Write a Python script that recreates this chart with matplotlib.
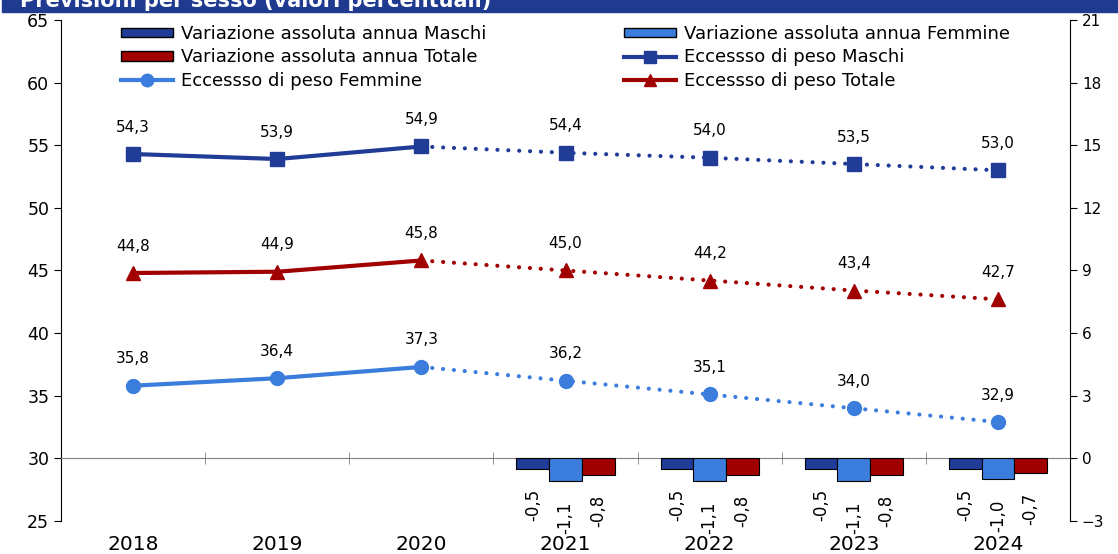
import matplotlib.pyplot as plt
from matplotlib.lines import Line2D
from matplotlib.patches import Patch
import numpy as np

years = ['2018', '2019', '2020', '2021', '2022', '2023', '2024']
maschi = [54.3, 53.9, 54.9, 54.4, 54.0, 53.5, 53.0]
femmine = [35.8, 36.4, 37.3, 36.2, 35.1, 34.0, 32.9]
totale = [44.8, 44.9, 45.8, 45.0, 44.2, 43.4, 42.7]
n_obs = 3  # 2018-2020 osservati, poi proiezioni

var_years = ['2021', '2022', '2023', '2024']
var_maschi = [-0.5, -0.5, -0.5, -0.5]
var_femmine = [-1.1, -1.1, -1.1, -1.0]
var_totale = [-0.8, -0.8, -0.8, -0.7]

BLU = '#203C96'
AZZURRO = '#3A7DDC'
ROSSO = '#A00000'


def fmt(v):
    return f'{v:.1f}'.replace('.', ',')


fig = plt.figure(figsize=(11.18, 5.54), dpi=100)
ax = fig.add_axes([0.0546, 0.0596, 0.9025, 0.9043])
ax2 = ax.twinx()

x = np.arange(len(years))

# title band (cut at the top in the reference)
fig.patches.append(plt.Rectangle((0.002, 1 - 12 / 554), 1.0, 12 / 554,
                                 transform=fig.transFigure, color='#1F3A8F', zorder=0))
fig.text(20 / 1118, 1 - 7 / 554, 'Previsioni per sesso (valori percentuali)',
         color='white', fontsize=15, fontweight='bold', va='baseline', ha='left')

# lines
series = [(maschi, BLU, 's', 10), (femmine, AZZURRO, 'o', 10), (totale, ROSSO, '^', 10)]
for vals, col, mk, ms in series:
    ax.plot(x[:n_obs], vals[:n_obs], color=col, lw=3, solid_capstyle='round', zorder=3)
    ax.plot(x[n_obs - 1:], vals[n_obs - 1:], color=col, lw=3,
            linestyle=(0, (0.01, 2.6)), dash_capstyle='round', zorder=3)
    ax.plot(x, vals, linestyle='none', marker=mk, ms=ms, color=col, zorder=4)
    for xi, v in zip(x, vals):
        ax.annotate(fmt(v), (xi, v), xytext=(0, 14), textcoords='offset points',
                    ha='center', va='bottom', fontsize=11)

# bars
xb = np.array([years.index(y) for y in var_years])
w = 0.227
for off, vals, col in [(-w, var_maschi, BLU), (0, var_femmine, AZZURRO), (w, var_totale, ROSSO)]:
    ax2.bar(xb + off, vals, width=w, color=col, edgecolor='black', linewidth=0.8, zorder=2)
    for xi, v in zip(xb + off, vals):
        ax2.annotate(fmt(v), (xi, v), xytext=(0, -14.5), textcoords='offset points',
                     ha='center', va='top', rotation=90, fontsize=12)

ax.set_xlim(-0.5, len(years) - 0.5)
ax.set_ylim(25, 65)
ax.set_yticks(np.arange(25, 66, 5))
ax2.set_ylim(-3, 21)
ax2.set_yticks(np.arange(-3, 22, 3))

ax.set_xticks(x, years)
ax.set_xticks(np.arange(len(years) + 1) - 0.5, minor=True)
ax.tick_params(axis='x', which='major', length=0, pad=55, labelsize=14.5)
ax.tick_params(axis='x', which='minor', direction='inout', length=8, color='#808080')
ax.tick_params(axis='y', direction='out', length=5, labelsize=12.5)
ax2.tick_params(axis='y', direction='out', length=5, labelsize=11)

for s in ['top', 'right']:
    ax.spines[s].set_visible(False)
ax.spines['bottom'].set_position(('data', 30))
ax.spines['bottom'].set_color('#808080')
for s in ['top', 'left', 'bottom']:
    ax2.spines[s].set_visible(False)

handles = [
    Patch(facecolor=BLU, edgecolor='black', label='Variazione assoluta annua Maschi'),
    Patch(facecolor=ROSSO, edgecolor='black', label='Variazione assoluta annua Totale'),
    Line2D([], [], color=AZZURRO, lw=3, marker='o', ms=9, label='Eccessso di peso Femmine'),
    Patch(facecolor=AZZURRO, edgecolor='black', label='Variazione assoluta annua Femmine'),
    Line2D([], [], color=BLU, lw=3, marker='s', ms=9, label='Eccessso di peso Maschi'),
    Line2D([], [], color=ROSSO, lw=3, marker='^', ms=9, label='Eccessso di peso Totale'),
]
ax2.legend(handles=handles, ncol=2, loc='upper left', bbox_to_anchor=(0.059, 0.99),
           frameon=False, fontsize=13, handlelength=2.9, handleheight=0.45,
           handletextpad=0.45, labelspacing=0.3, columnspacing=7.6,
           borderpad=0, borderaxespad=0)

fig.savefig('out.png', dpi=100)
